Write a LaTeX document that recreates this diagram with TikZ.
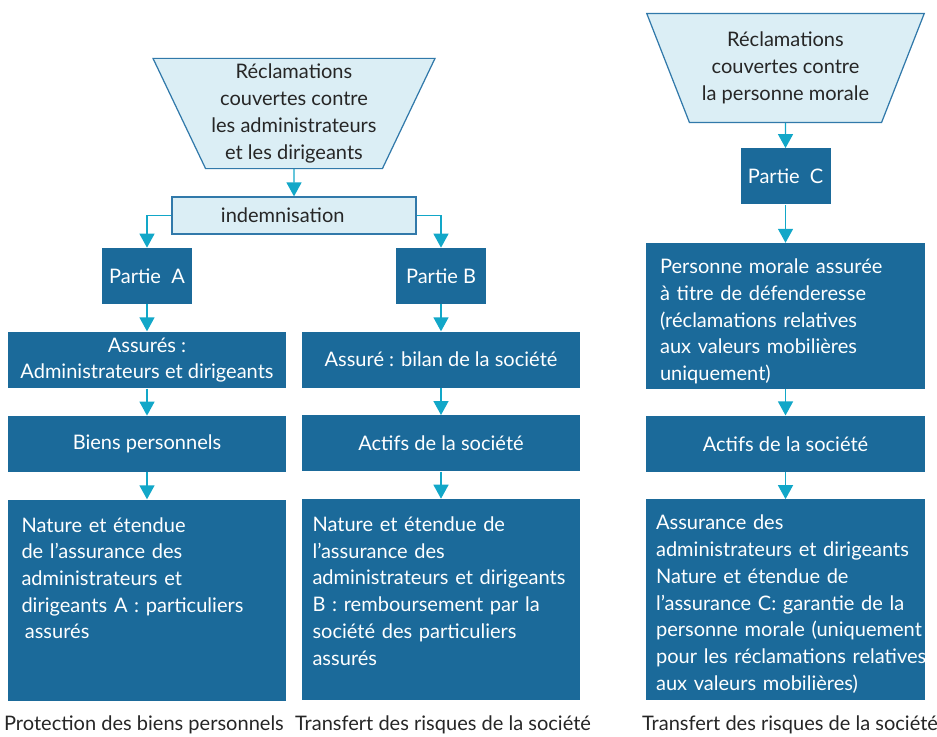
\documentclass[tikz,border=0pt]{standalone}
\usepackage{fontspec}
\setmainfont{Lato}
\usetikzlibrary{positioning, shapes.geometric, arrows.meta}
\definecolor{bleufonce}{HTML}{1B6A9A}
\definecolor{bleuclair}{HTML}{DBEEF5}
\definecolor{bordclair}{HTML}{3179AA}
\definecolor{cyanfleche}{HTML}{12A7C8}
\tikzset{
	x=0.02cm, y=-0.02cm, % 1 unidad = 1 pixel de la imagen
	>={Triangle[width=0.3cm,length=0.28cm]}, % Punta de flecha triangular
	node distance=0.54cm, % Distancia entre cajas
	every node/.style={font=\fontsize{11.4}{15.2}\selectfont}, % Letra de todos los nodos
	fleche/.style={->, draw=cyanfleche, line width=0.8pt}, % Conectores
	entonnoir/.style={trapezium, trapezium left angle=64.5, trapezium right angle=64.5,
		shape border rotate=180, trapezium stretches=true,
		minimum width=5.56cm, minimum height=2.18cm,
		fill=bleuclair, draw=bordclair, line width=0.7pt, align=center, text=black!85},
	clair/.style={rectangle, fill=bleuclair, draw=bordclair, line width=0.7pt,
		minimum width=4.88cm, minimum height=0.74cm, text=black!85},
	bloc/.style={rectangle, fill=bleufonce, text=white, minimum height=1.12cm, align=center},
	partie/.style={bloc, minimum width=1.8cm},
	large/.style={bloc, minimum width=5.58cm},
	texte/.style={rectangle, fill=bleufonce, text=white, text width=5.02cm, align=left,
		inner xsep=0.28cm, inner ysep=0.15cm, text height=0.5cm},
	grand/.style={texte, text depth=3.22cm}, % Cajas de abajo
	moyen/.style={texte, text height=0.46cm, text depth=2.16cm},
	legende/.style={anchor=base, text=black!85}
}

\begin{document}
\begin{tikzpicture}
	\useasboundingbox (0,0) rectangle (937,737);

	% columnas A y B
	\node[entonnoir] (recAD) at (294,113.5) {Réclamations\\couvertes contre\\les administrateurs\\et les dirigeants};
	\node[clair] (indem) at (294,215.5) {indemnisation\hspace*{0.45cm}};
	\node[partie] (partieA) at (147,276) {Partie\ \ A};
	\node[partie] (partieB) at (441,276) {Partie B};
	\node[large, below=of partieA] (assA) {Assurés :\\Administrateurs et dirigeants};
	\node[large, below=of partieB] (assB) {Assuré : bilan de la société};
	\node[large, below=of assA] (biensA) {Biens personnels};
	\node[large, below=of assB] (actifsB) {Actifs de la société};
	\node[grand, below=of biensA] (natA) {Nature et étendue\\de l’assurance des\\administrateurs et\\dirigeants A : particuliers\\ \,assurés};
	\node[grand, inner xsep=0.22cm, text width=5.14cm, below=of actifsB] (natB) {Nature et étendue de\\l’assurance des\\\mbox{administrateurs et dirigeants}\\B : remboursement par la\\société des particuliers\\assurés};

	% columna C
	\node[entonnoir] (recPM) at (785.5,68) {Réclamations\\couvertes contre\\la personne morale};
	\node[partie, below=0.5cm of recPM] (partieC) {Partie\ \ C};
	\node[moyen, below=0.76cm of partieC] (persC) {Personne morale assurée\\à titre de défenderesse\\(réclamations relatives\\aux valeurs mobilières\\uniquement)};
	\node[large, below=0.52cm of persC] (actifsC) {Actifs de la société};
	\node[grand, inner xsep=0.2cm, text width=5.18cm, text height=0.46cm, text depth=3.26cm,
		below=of actifsC] (natC) {Assurance des\\\mbox{administrateurs et dirigeants}\\Nature et étendue de\\\mbox{l’assurance C: garantie de la}\\\mbox{personne morale (uniquement}\\\mbox{pour les réclamations relatives}\\aux valeurs mobilières)};

	% textos de abajo
	\node[legende] (protA) at (144,730) {Protection des biens personnels};
	\node[legende] (transB) at (443,730) {Transfert des risques de la société};
	\node[legende] (transC) at (790,730) {Transfert des risques de la société};

	\draw[fleche] (recAD) -- (indem);
	\draw[fleche] (indem.west) -| (partieA.north);
	\draw[fleche] (indem.east) -| (partieB.north);
	\draw[fleche] (partieA) -- (assA);
	\draw[fleche] (partieB) -- (assB);
	\draw[fleche] (assA) -- (biensA);
	\draw[fleche] (assB) -- (actifsB);
	\draw[fleche] (biensA) -- (natA);
	\draw[fleche] (actifsB) -- (natB);
	\draw[fleche] (recPM) -- (partieC);
	\draw[fleche] (partieC) -- (persC);
	\draw[fleche] (persC) -- (actifsC);
	\draw[fleche] (actifsC) -- (natC);
\end{tikzpicture}
\end{document}
